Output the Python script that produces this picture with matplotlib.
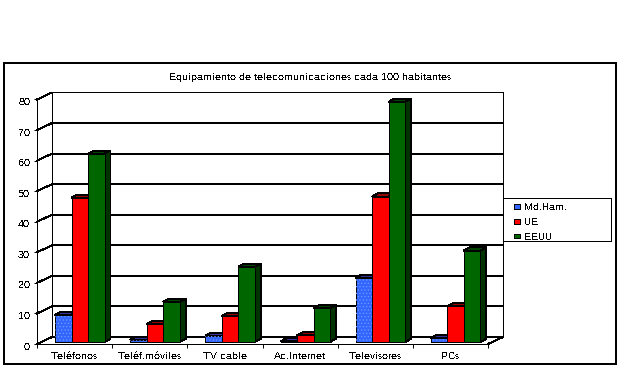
import matplotlib
matplotlib.use('Agg')
import matplotlib.pyplot as plt
from matplotlib.patches import Polygon, Rectangle
from matplotlib.transforms import ScaledTranslation

plt.rcParams['font.family'] = ['Liberation Sans', 'DejaVu Sans']
plt.rcParams['text.antialiased'] = False
plt.rcParams['text.hinting'] = 'native'
plt.rcParams['text.hinting_factor'] = 1
plt.rcParams['lines.antialiased'] = False
plt.rcParams['patch.antialiased'] = False
plt.rcParams['hatch.linewidth'] = 0.5

W, H = 621, 369
LW = 0.72  # one pixel

categories = ['Teléfonos', 'Teléf.móviles', 'TV cable', 'Ac.Internet', 'Televisores', 'PCs']
yticks = [0, 10, 20, 30, 40, 50, 60, 70, 80]
title = 'Equipamiento de telecomunicaciones cada 100 habitantes'

md_ham = [8.9, 0.7, 2.0, 0.2, 21.0, 1.3]
ue = [47.2, 5.9, 8.5, 2.2, 47.6, 11.7]
eeuu = [61.6, 13.1, 24.6, 11.1, 78.6, 29.9]

series = [('Md.Ham.', md_ham, '#3366ff', '#333399', '#1f2f80'),
          ('UE', ue, '#ff0000', '#990000', '#660000'),
          ('EEUU', eeuu, '#006600', '#004400', '#003300')]

fig = plt.figure(figsize=(W / 100, H / 100), dpi=100, facecolor='white')
fig.add_artist(Rectangle((3.5 / W, 1 - 364 / H), 612 / W, 301 / H, transform=fig.transFigure,
                         fill=False, edgecolor='black', linewidth=1.44))
fig.add_artist(Rectangle((503 / W, 1 - 241 / H), 108 / W, 43 / H, transform=fig.transFigure,
                         fill=False, edgecolor='black', linewidth=LW))

ax = fig.add_axes([37 / W, 1 - 344 / H, 451 / W, 244.5 / H])
ax.set_xlim(0, 6)
ax.set_ylim(0, 80)
ax.patch.set_visible(False)
for s in ['top', 'right']:
    ax.spines[s].set_visible(False)
for s in ['left', 'bottom']:
    ax.spines[s].set_linewidth(LW)

# pixel sizes turned into data units
px_x = 6 / 451
px_y = 80 / 244.5
wall_dx = 15 * px_x
wall_dy = 7 * px_y

# back wall and floor
for v in yticks:
    ax.plot([0, wall_dx, 6 + wall_dx], [v, v + wall_dy, v + wall_dy], color='black', lw=LW, clip_on=False, zorder=1)
ax.plot([wall_dx, wall_dx], [wall_dy, 80 + wall_dy], color='black', lw=LW, clip_on=False, zorder=1)
ax.plot([6 + wall_dx, 6 + wall_dx], [wall_dy, 80 + wall_dy], color='black', lw=LW, clip_on=False, zorder=1)
ax.plot([6, 6 + wall_dx], [0, wall_dy], color='black', lw=LW, clip_on=False, zorder=1)

bar_w = 16.5 * px_x
start = 18 * px_x
base = 2 * px_y
dx = 6 * px_x
dy = 3.2 * px_y

handles = []
for j, (name, vals, col, top_col, side_col) in enumerate(series):
    for i, v in enumerate(vals):
        x0 = i + start + j * bar_w
        x1 = x0 + bar_w
        ax.add_patch(Polygon([(x1, base), (x1 + dx, base + dy), (x1 + dx, base + v + dy), (x1, base + v)],
                             facecolor=side_col, edgecolor='black', lw=LW, clip_on=False, zorder=3 + j))
        ax.add_patch(Polygon([(x0, base + v), (x0 + dx, base + v + dy), (x1 + dx, base + v + dy), (x1, base + v)],
                             facecolor=top_col, edgecolor='black', lw=LW, clip_on=False, zorder=3 + j))
    xs = [i + start + (j + 0.5) * bar_w for i in range(6)]
    b = ax.bar(xs, vals, bar_w, bottom=base, color=col, edgecolor='black', linewidth=LW,
               clip_on=False, zorder=3 + j, label=name)
    handles.append(b)
    if j == 0:
        ax.bar(xs, vals, bar_w, bottom=base, facecolor='none', edgecolor='#6f9bff', linewidth=0,
               hatch='.....', clip_on=False, zorder=3.5)

ax.set_yticks(yticks)
ax.set_xticks(range(7))
ax.set_xticklabels([])
ax.set_xticks([i + 0.5 for i in range(6)], categories, minor=True)
ax.tick_params(axis='x', which='major', length=3, width=LW)
ax.tick_params(axis='x', which='minor', length=0, pad=5.5, labelsize=7.5)
ax.tick_params(axis='y', length=2, width=LW, pad=3, labelsize=7.5)

# y labels sit a little lower than the ticks in the original
shift = ScaledTranslation(0, -1.5 / 72, fig.dpi_scale_trans)
for lab in ax.get_yticklabels():
    lab.set_transform(lab.get_transform() + shift)

fig.text(310 / W, 1 - 77 / H, title, ha='center', va='center', fontsize=6.9)

leg = ax.legend(handles=handles, loc='upper left', bbox_to_anchor=(514 / W, 1 - 203.5 / H),
                bbox_transform=fig.transFigure, fontsize=7.5, frameon=False,
                borderpad=0, labelspacing=0.55, handlelength=0.6, handleheight=0.3,
                handletextpad=0.35, borderaxespad=0)
leg.set_zorder(10)

fig.savefig('out.png', dpi=100, facecolor='white')
